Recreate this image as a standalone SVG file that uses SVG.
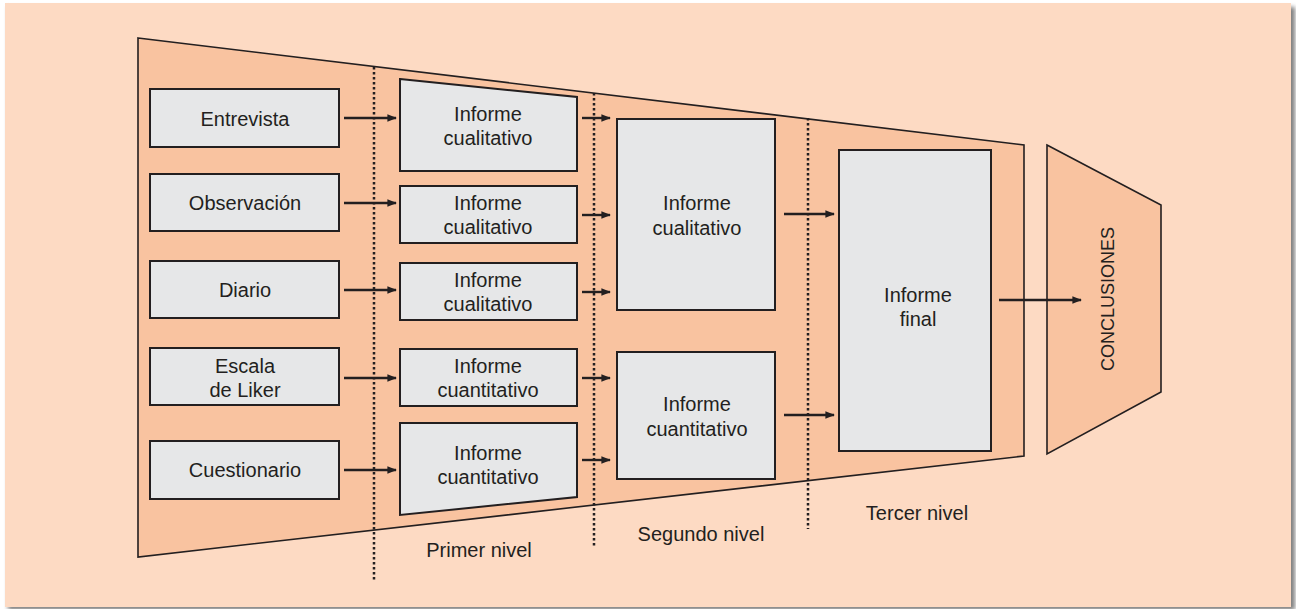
<svg xmlns="http://www.w3.org/2000/svg" width="1296" height="609" viewBox="0 0 1296 609">
<style>
.box{fill:#e6e7e8;stroke:#231f20;stroke-width:2}
.shape{fill:#f9c3a0;stroke:#231f20;stroke-width:1.6}
.t{font-family:"Liberation Sans",Arial,sans-serif;font-size:20px;fill:#231f20;text-anchor:middle}
.c{font-size:18px}
.dot{stroke:#231f20;stroke-width:2.5;stroke-dasharray:2.5 2.5;fill:none}
.arr{stroke:#231f20;stroke-width:2.4;fill:none;marker-end:url(#ah)}
</style>
<defs>
<marker id="ah" viewBox="0 0 10 10" refX="9" refY="5" markerWidth="4" markerHeight="4" markerUnits="strokeWidth" orient="auto">
<path d="M0,1 L10,5 L0,9 z" fill="#231f20"/>
</marker>
<filter id="sh" x="-5%" y="-5%" width="110%" height="110%"><feGaussianBlur stdDeviation="2"/></filter>
</defs>
<rect width="1296" height="609" fill="#ffffff"/>
<rect x="8" y="7" width="1287" height="603" fill="#808080" filter="url(#sh)"/>
<rect x="5" y="3" width="1286" height="604" fill="#fddac3"/>
<g id="funnel"><polygon class="shape" points="138,38 1024,145 1024,456 138,557"/></g>
<g id="conclusiones">
<polygon class="shape" points="1047,145 1161,205 1161,392 1047,454"/>
<text class="t c" transform="translate(1114,299) rotate(-90)">CONCLUSIONES</text>
</g>
<g id="dividers">
<line class="dot" x1="374" y1="67" x2="374" y2="582"/>
<line class="dot" x1="594" y1="93" x2="594" y2="548"/>
<line class="dot" x1="808" y1="118" x2="808" y2="529"/>
</g>
<g id="n-entrevista"><rect class="box" x="150" y="89" width="189" height="58"/><text class="t" x="245" y="126">Entrevista</text></g>
<g id="n-observacion"><rect class="box" x="150" y="174" width="189" height="57"/><text class="t" x="245" y="210">Observación</text></g>
<g id="n-diario"><rect class="box" x="150" y="261" width="189" height="57"/><text class="t" x="245" y="297">Diario</text></g>
<g id="n-escala"><rect class="box" x="150" y="348" width="189" height="57"/><text class="t" x="245" y="373">Escala</text><text class="t" x="245" y="397">de Liker</text></g>
<g id="n-cuestionario"><rect class="box" x="150" y="441" width="189" height="58"/><text class="t" x="245" y="477">Cuestionario</text></g>
<g id="n-ic1"><polygon class="box" points="400,79 577,97 577,171 400,171"/><text class="t" x="488" y="121">Informe</text><text class="t" x="488" y="145">cualitativo</text></g>
<g id="n-ic2"><rect class="box" x="400" y="186" width="177" height="57"/><text class="t" x="488" y="210">Informe</text><text class="t" x="488" y="234">cualitativo</text></g>
<g id="n-ic3"><rect class="box" x="400" y="263" width="177" height="57"/><text class="t" x="488" y="287">Informe</text><text class="t" x="488" y="311">cualitativo</text></g>
<g id="n-iq1"><rect class="box" x="400" y="349" width="177" height="57"/><text class="t" x="488" y="373">Informe</text><text class="t" x="488" y="397">cuantitativo</text></g>
<g id="n-iq2"><polygon class="box" points="400,423 577,423 577,497 400,515"/><text class="t" x="488" y="460">Informe</text><text class="t" x="488" y="484">cuantitativo</text></g>
<g id="n-ic-2"><rect class="box" x="617" y="119" width="158" height="191"/><text class="t" x="697" y="210">Informe</text><text class="t" x="697" y="235">cualitativo</text></g>
<g id="n-iq-2"><rect class="box" x="617" y="352" width="158" height="127"/><text class="t" x="697" y="411">Informe</text><text class="t" x="697" y="436">cuantitativo</text></g>
<g id="n-final"><rect class="box" x="839" y="150" width="152" height="301"/><text class="t" x="918" y="302">Informe</text><text class="t" x="918" y="326">final</text></g>
<g id="level-labels">
<text class="t" x="479" y="557">Primer nivel</text>
<text class="t" x="701" y="541">Segundo nivel</text>
<text class="t" x="917" y="520">Tercer nivel</text>
</g>
<g id="connectors">
<line class="arr" x1="344" y1="118" x2="396" y2="118"/>
<line class="arr" x1="344" y1="203" x2="396" y2="203"/>
<line class="arr" x1="344" y1="290" x2="396" y2="290"/>
<line class="arr" x1="344" y1="378" x2="396" y2="378"/>
<line class="arr" x1="344" y1="470" x2="396" y2="470"/>
<line class="arr" x1="582" y1="118" x2="610" y2="118"/>
<line class="arr" x1="582" y1="215" x2="610" y2="215"/>
<line class="arr" x1="582" y1="292" x2="610" y2="292"/>
<line class="arr" x1="582" y1="378" x2="610" y2="378"/>
<line class="arr" x1="582" y1="460" x2="610" y2="460"/>
<line class="arr" x1="784" y1="214" x2="834" y2="214"/>
<line class="arr" x1="784" y1="415" x2="834" y2="415"/>
<line class="arr" x1="999" y1="300" x2="1081" y2="300"/>
</g>
</svg>
